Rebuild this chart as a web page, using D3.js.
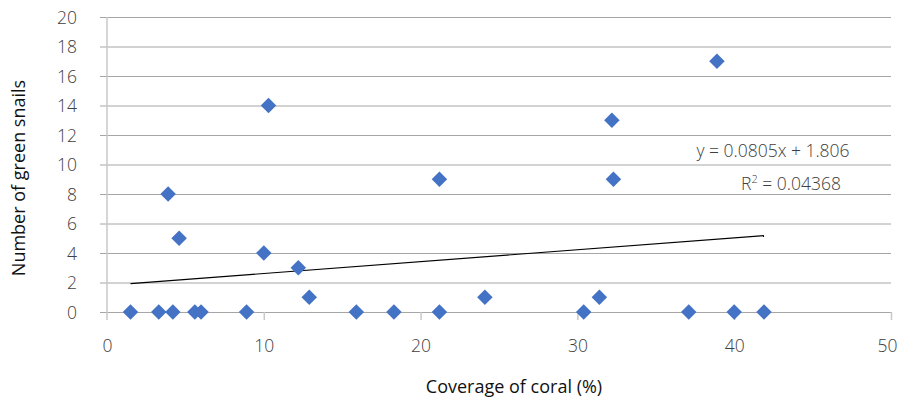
<!DOCTYPE html>
<html>
<head>
<meta charset="utf-8">
<script src="https://cdn.jsdelivr.net/npm/d3@7"></script>
<style>
  body { margin: 0; background: #fff; }
  svg { display: block; }
  .tick text { font-family: "Open Sans", "Noto Sans", sans-serif; font-size: 17.5px; fill: #404040; font-weight: 300; }
  .title { font-family: "Open Sans", "Noto Sans", sans-serif; font-size: 18px; fill: #111; }
  .eq { font-family: "Open Sans", "Noto Sans", sans-serif; font-size: 17.5px; fill: #404040; font-weight: 300; }
</style>
</head>
<body>
<div id="chart"></div>
<script>
// coverage of coral (%) and number of green snails
var coralCover = [1.5, 3.3, 4.2, 5.6, 6.0, 8.9, 3.9, 4.6, 10.0, 12.2, 12.9, 15.9, 18.3, 21.2,
                  10.3, 21.2, 24.1, 30.4, 31.4, 37.1, 40.0, 41.9, 38.9, 32.2, 32.3];
var snails     = [0, 0, 0, 0, 0, 0, 8, 5, 4, 3, 1, 0, 0, 0,
                  14, 9, 1, 0, 1, 0, 0, 0, 17, 13, 9];
var xTicks = [0, 10, 20, 30, 40, 50];
var yTicks = [0, 2, 4, 6, 8, 10, 12, 14, 16, 18, 20];
// trend line (shown as label too)
var slope = 0.0805, intercept = 1.806;
var eqLabel = "y = 0.0805x + 1.806";
var r2Label = "0.04368";

var W = 899, H = 399;
var margin = { top: 17, right: 8, bottom: 87, left: 107 };
var w = W - margin.left - margin.right,
    h = H - margin.top - margin.bottom;

var svg = d3.select("#chart").append("svg")
  .attr("width", W).attr("height", H);
var g = svg.append("g").attr("transform", "translate(" + margin.left + "," + margin.top + ")");

var x = d3.scaleLinear().domain([0, 50]).range([0, 784]);
var y = d3.scaleLinear().domain([0, 20]).range([h, 0]);

// horizontal gridlines, reaching left past the axis as ticks
var yAxis = g.append("g")
  .call(d3.axisLeft(y).tickValues(yTicks).tickSize(-(x(50) + 7)).tickPadding(30))
  .attr("transform", "translate(-7,0)");
yAxis.select(".domain").remove();
yAxis.selectAll(".tick line").attr("stroke", "#a6a6a6");
yAxis.selectAll(".tick text").attr("x", -23).attr("dy", "0.36em");

// vertical axis line
g.append("line")
  .attr("x1", 0).attr("x2", 0).attr("y1", 0).attr("y2", h + 8)
  .attr("stroke", "#c8c8c8").attr("stroke-width", 1.5);

var xAxis = g.append("g")
  .attr("transform", "translate(0," + h + ")")
  .call(d3.axisBottom(x).tickValues(xTicks).tickSize(8).tickPadding(20));
xAxis.select(".domain").remove();
xAxis.selectAll(".tick line").attr("stroke", "#c8c8c8").attr("stroke-width", 1.5);
xAxis.selectAll(".tick").filter(function(d) { return d === 0; }).select("line").remove();
xAxis.selectAll(".tick").filter(function(d) { return d === 50; }).select("text").attr("dx", -4);

// trend line over the data range
var xr = d3.extent(coralCover);
g.append("line")
  .attr("x1", x(xr[0])).attr("y1", y(slope * xr[0] + intercept))
  .attr("x2", x(xr[1])).attr("y2", y(slope * xr[1] + intercept))
  .attr("stroke", "#000").attr("stroke-width", 1.2);

// diamonds
var diamond = d3.symbol().type(d3.symbolSquare).size(120);
g.selectAll(".pt")
  .data(coralCover.map(function(v, i) { return [v, snails[i]]; }))
  .enter().append("path")
  .attr("class", "pt")
  .attr("d", diamond)
  .attr("transform", function(d) { return "translate(" + x(d[0]) + "," + y(d[1]) + ") rotate(45)"; })
  .attr("fill", "#4472c4");

// equation labels
g.append("text").attr("class", "eq")
  .attr("x", 666).attr("y", 140)
  .attr("text-anchor", "middle")
  .text(eqLabel);
var r2 = g.append("text").attr("class", "eq")
  .attr("x", 684).attr("y", 173)
  .attr("text-anchor", "middle");
r2.append("tspan").text("R");
r2.append("tspan").attr("font-size", "11px").attr("dy", -7).text("2");
r2.append("tspan").attr("dy", 7).text(" = " + r2Label);

// axis titles
svg.append("text").attr("class", "title")
  .attr("x", 514).attr("y", 393)
  .attr("text-anchor", "middle")
  .text("Coverage of coral (%)");
svg.append("text").attr("class", "title")
  .attr("transform", "translate(25,178) rotate(-90)")
  .attr("text-anchor", "middle")
  .text("Number of green snails");
</script>
</body>
</html>
